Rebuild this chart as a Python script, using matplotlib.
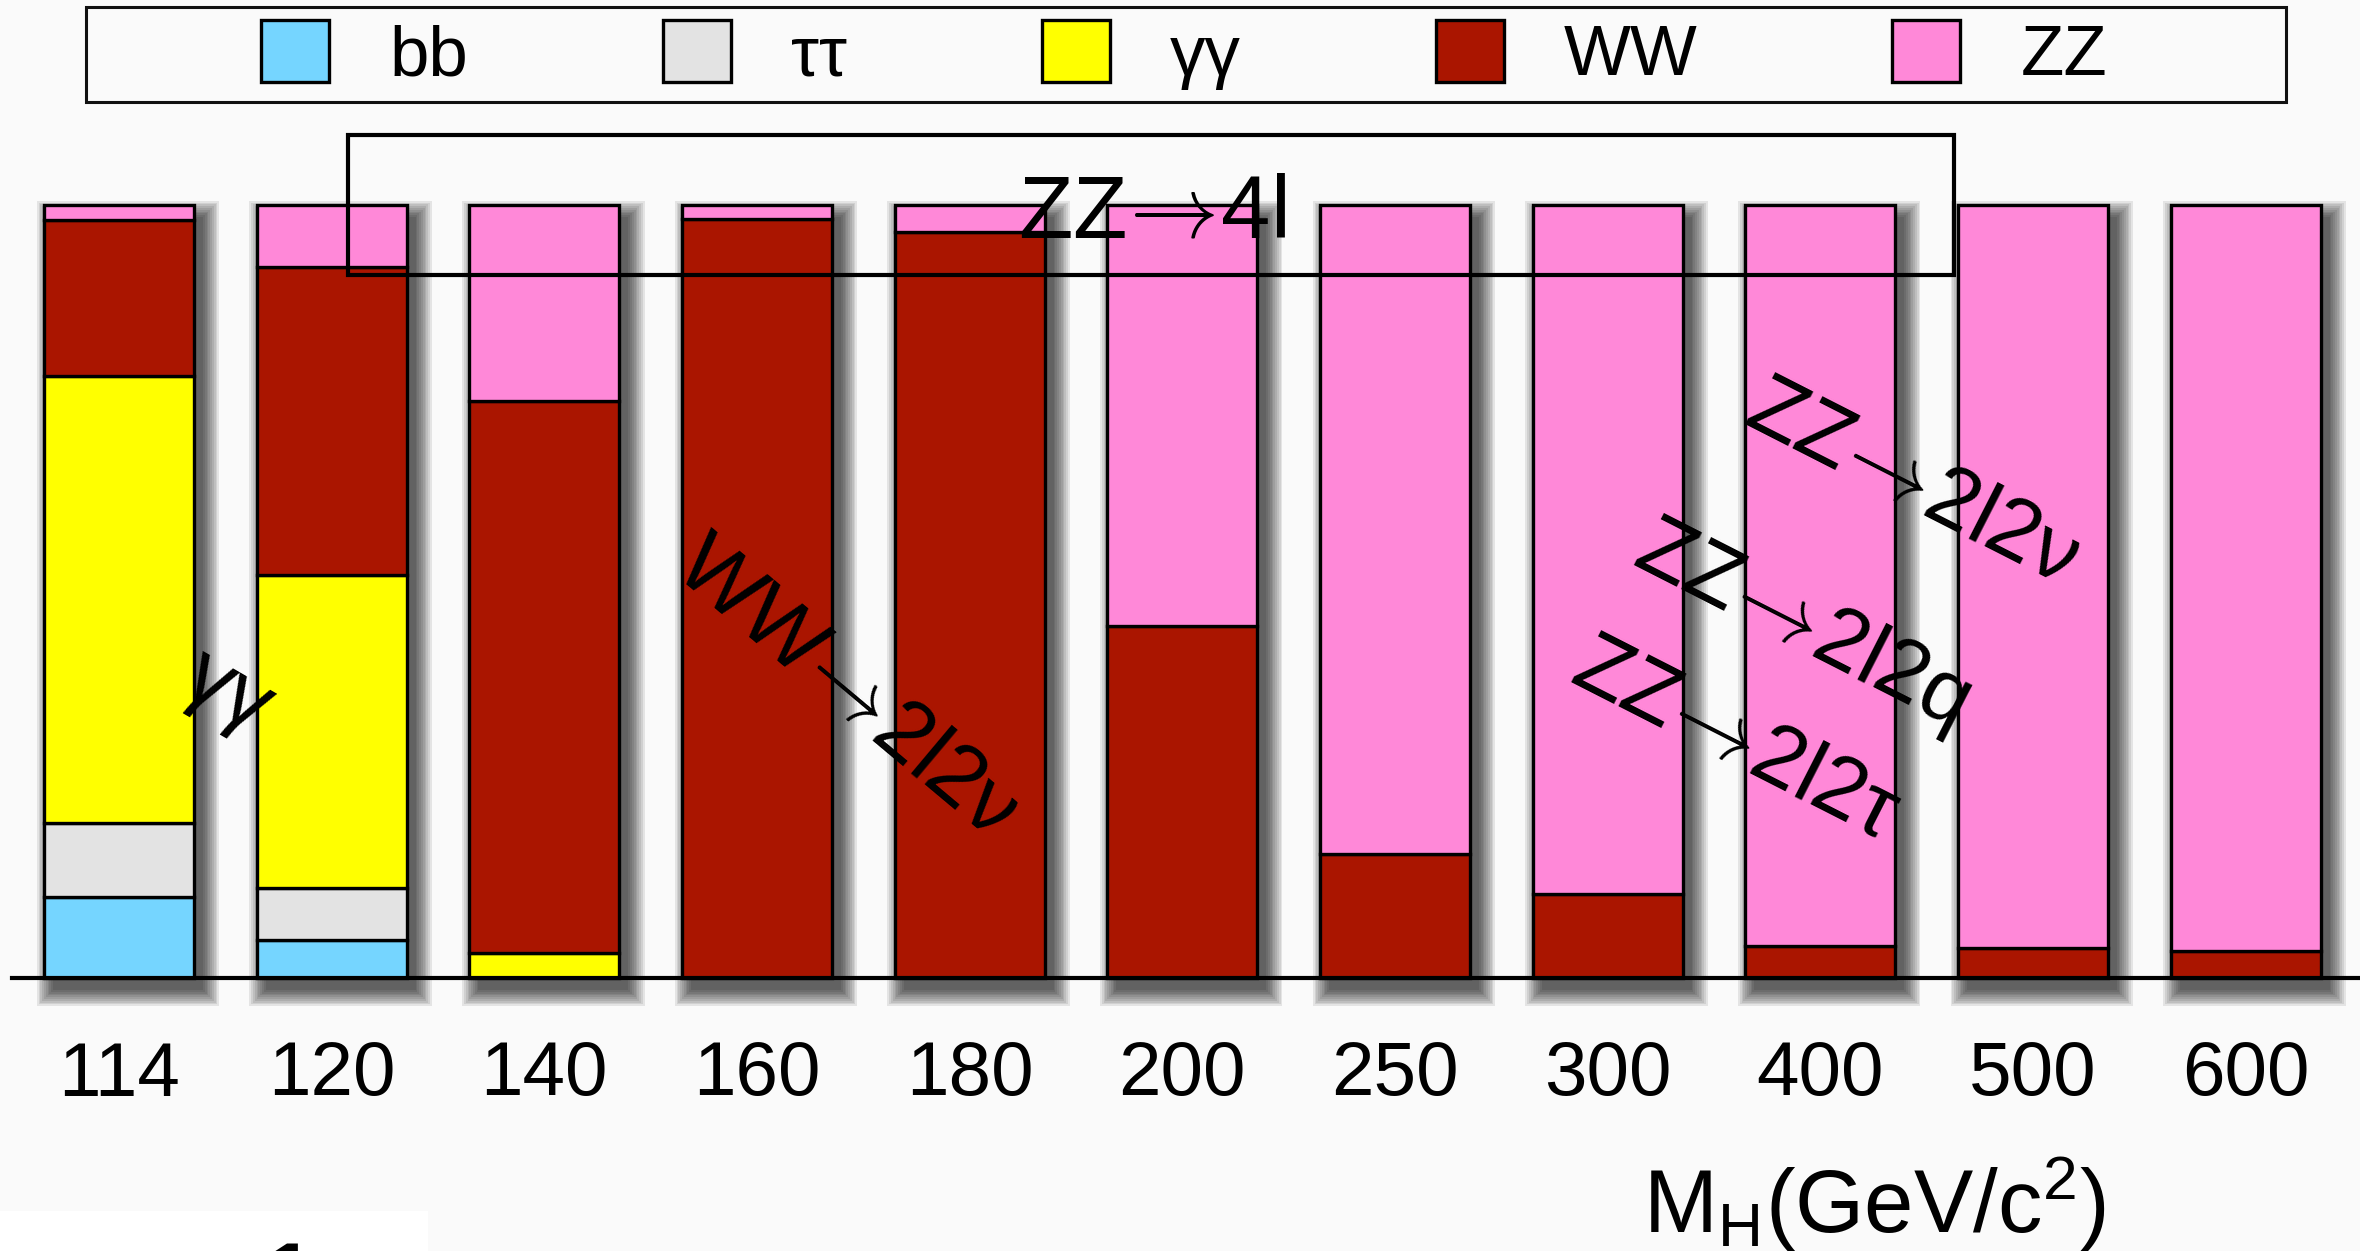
import numpy as np
import matplotlib
matplotlib.use('Agg')
import matplotlib.pyplot as plt
from matplotlib.patches import Rectangle

# ---------------- data (fractions in %) ----------------
masses = ['114', '120', '140', '160', '180', '200', '250', '300', '400', '500', '600']
bb_frac = [10.5, 4.9, 0, 0, 0, 0, 0, 0, 0, 0, 0]
tautau_frac = [9.6, 6.8, 0, 0, 0, 0, 0, 0, 0, 0, 0]
gamgam_frac = [57.8, 40.4, 3.2, 0, 0, 0, 0, 0, 0, 0, 0]
ww_frac = [20.1, 39.9, 71.4, 98.2, 96.5, 45.5, 16.1, 10.9, 4.2, 3.9, 3.5]
zz_frac = [2.0, 8.0, 25.4, 1.8, 3.5, 54.5, 83.9, 89.1, 95.8, 96.1, 96.5]
channel_labels = ['bb', 'ττ', 'γγ', 'WW', 'ZZ']
channel_colors = ['#75d5ff', '#e3e3e3', '#ffff00', '#aa1500', '#ff88d8']

plt.rcParams['font.family'] = ['Liberation Sans', 'DejaVu Sans']
plt.rcParams['mathtext.fontset'] = 'cm'

W, H = 2360, 1251
BG = '#fafafa'
fig = plt.figure(figsize=(W / 100, H / 100), dpi=100, facecolor=BG)

# axes geometry (pixels)
AX_L, AX_R, AX_T, AX_B = 12, 2360, 120, 1100
BASE = 978          # pixel row of y=0
X0 = 119            # pixel column of first bar centre
PX = 212.65         # pixels per category
PY = 7.73           # pixels per percent
BW = 150 / PX

ax = fig.add_axes([AX_L / W, 1 - AX_B / H, (AX_R - AX_L) / W, (AX_B - AX_T) / H])
ax.set_facecolor('none')
ax.set_xlim(-(X0 - AX_L) / PX, (AX_R - X0) / PX)
ax.set_ylim(-(AX_B - BASE) / PY, (BASE - AX_T) / PY)

x = np.arange(len(masses))
series = [bb_frac, tautau_frac, gamgam_frac, ww_frac, zz_frac]
totals = np.sum(np.array(series, dtype=float), axis=0)

# soft drop shadow (offset right / down)
for k in range(10):
    s = 1.8 * k
    ax.bar(x + 9 / PX, totals + 2 * s / PY, width=BW + 2 * s / PX,
           bottom=-(12 + s) / PY, color='black', alpha=0.085, linewidth=0,
           zorder=0.5)

bottom = np.zeros(len(masses))
handles = []
for vals, lab, col in zip(series, channel_labels, channel_colors):
    vals = np.asarray(vals, dtype=float)
    m = vals > 0
    bc = ax.bar(x[m], vals[m], BW, bottom=bottom[m], color=col,
                edgecolor='black', linewidth=2.4, label=lab, zorder=2)
    handles.append(bc)
    bottom += vals

for sp in ['left', 'right', 'top']:
    ax.spines[sp].set_visible(False)
ax.spines['bottom'].set_position(('data', 0))
ax.spines['bottom'].set_linewidth(3)
ax.spines['bottom'].set_zorder(3)
ax.set_yticks([])
ax.set_xticks(x, masses, fontsize=55)
ax.tick_params(axis='x', length=0, pad=45)

# legend with a separate frame
fig.add_artist(Rectangle((86 / W, 1 - 102 / H), 2200 / W, 95 / H,
                         transform=fig.transFigure, fill=False,
                         edgecolor='#111111', lw=2.2))
fig.legend(handles=handles, labels=channel_labels, loc='center',
           bbox_to_anchor=(1184 / W, 1 - 55 / H), ncol=5, frameon=False,
           fontsize=51, handlelength=0.96, handleheight=0.96,
           handletextpad=0.85, columnspacing=2.75)

ARROW = r'$\!\rightarrow\!$'

# ZZ -> 4l box and text
ax.add_patch(Rectangle((1.077, 90.94), 8.629 - 1.077, 18.12, fill=False,
                       ec='black', lw=3, zorder=4, clip_on=False))
ax.text(4.228, 95.86, 'ZZ' + ARROW + '4l', fontsize=64, ha='left',
        va='baseline', zorder=5)

# rotated channel annotations
annots = [
    (0.513, 36.87, 'γγ', -30),
    (3.414, 37.39, 'WW' + ARROW + '2l2ν', -40),
    (8.427, 63.9, 'ZZ' + ARROW + '2l2ν', -27),
    (7.910, 45.67, 'ZZ' + ARROW + '2l2q', -27),
    (7.599, 30.79, 'ZZ' + ARROW + '2l2τ', -27),
]
for ax_x, ax_y, s, r in annots:
    ax.text(ax_x, ax_y, s, fontsize=63, rotation=r, rotation_mode='anchor',
            ha='center', va='center', zorder=5)

# x-axis label
fig.text(1874 / W, 1 - 1233 / H, r'$\mathregular{M_H(GeV/c^2)}$',
         fontsize=64, ha='center', va='baseline')

# white patch in the bottom-left corner (slide remnant)
fig.add_artist(Rectangle((0, 0), 428 / W, 40 / H, transform=fig.transFigure,
                         facecolor='white', edgecolor='none', zorder=0))
fig.text(290 / W, 11 / H, '1', fontsize=60, fontweight='bold', va='top',
         ha='center')

fig.savefig('out.png', dpi=100, facecolor=BG)
